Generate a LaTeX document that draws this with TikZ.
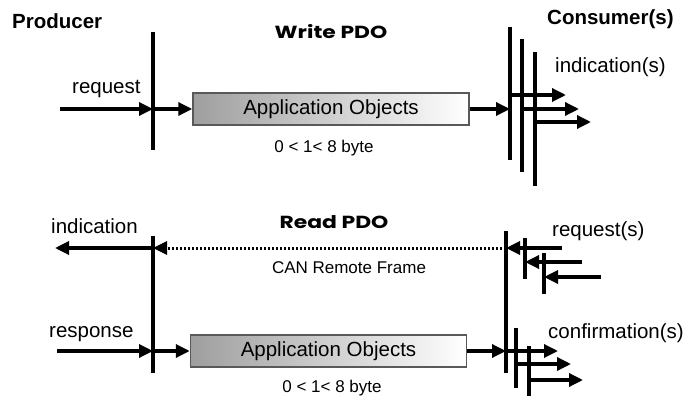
\documentclass[tikz,border=0pt]{standalone}
\usepackage{fontspec}
\setmainfont{Liberation Sans}
\newfontfamily\pdofont[FakeStretch=1.25]{Poppins}
\usetikzlibrary{arrows.meta}

\begin{document}
\begin{tikzpicture}[x=1pt,y=-1pt,
   bar/.style={line width=3.3pt},
   flow/.style={line width=3.3pt,-{Triangle[length=14pt,width=13pt]}},
   lbl/.style={anchor=base west,inner sep=0pt,font=\fontsize{20.5}{24}\selectfont},
   head/.style={lbl,font=\bfseries\fontsize{20.5}{24}\selectfont},
   small/.style={anchor=base,inner sep=0pt,font=\fontsize{17}{20}\selectfont},
   pdo/.style={anchor=base,inner sep=0pt,font=\pdofont\bfseries\fontsize{17.5}{20}\selectfont},
   objbox/.style={draw=black!65,line width=1.5pt,left color=black!38,right color=white,
      minimum width=276pt,minimum height=32pt,inner sep=0pt,font=\fontsize{20.5}{24}\selectfont}]
\useasboundingbox (0,0) rectangle (690,396);
\node[head] (prod) at (12,29) {Producer};
\node[head] (cons) at (547,25) {Consumer(s)};

% write PDO
\node[pdo] (wpdo) at (331,38) {Write PDO};
\node[lbl] (wreq) at (72,93) {request};
\node[lbl] (wind) at (555,73) {indication(s)};
\node[objbox] (wobj) at (331,109) {Application Objects};
\node[small] (wsize) at (324,152) {0 < 1< 8 byte};
\coordinate (wp-t) at (153,32); \coordinate (wp-b) at (153,150);
\coordinate (wc1-t) at (510,27); \coordinate (wc1-b) at (510,160);
\coordinate (wc2-t) at (522,39); \coordinate (wc2-b) at (522,172);
\coordinate (wc3-t) at (535,52); \coordinate (wc3-b) at (535,186);
\coordinate (wreq-in) at (60,109);
\draw[bar] (wp-t) -- (wp-b);
\draw[flow] (wreq-in) -- (wreq-in -| wp-t);
\draw[flow] (wreq-in -| wp-t) -- (wobj.west);
\draw[flow] (wobj.east) -- (wobj.east -| wc1-t);
\foreach \i/\y/\x in {1/95/566,2/109/579,3/122/591} {
  \draw[bar] (wc\i-t) -- (wc\i-b);
  \coordinate (wind\i) at (\x,\y);
  \draw[flow] (wind\i -| wc\i-t) -- (wind\i);
}

% read PDO
\node[pdo] (rpdo) at (334,228) {Read PDO};
\node[lbl] (rind) at (51,233) {indication};
\node[lbl] (rreq) at (552,236) {request(s)};
\node[small] (can) at (349,273) {CAN Remote Frame};
\node[lbl] (rresp) at (49,337) {response};
\node[lbl] (rconf) at (548,338) {confirmation(s)};
\node[objbox] (robj) at (328.5,351) {Application Objects};
\node[small] (rsize) at (332,392) {0 < 1< 8 byte};
\coordinate (rp-t) at (153,236); \coordinate (rp-b) at (153,373);
\coordinate (rc-t) at (506,231); \coordinate (rc-b) at (506,373);
\coordinate (rq2-t) at (525,238); \coordinate (rq2-b) at (525,279);
\coordinate (rq3-t) at (544,253); \coordinate (rq3-b) at (544,294);
\coordinate (cf2-t) at (516,328); \coordinate (cf2-b) at (516,388);
\coordinate (cf3-t) at (529,346); \coordinate (cf3-b) at (529,396);
\coordinate (rind-out) at (55,248);
\coordinate (rresp-in) at (57,351);
\foreach \l in {rp,rc,rq2,rq3,cf2,cf3} \draw[bar] (\l-t) -- (\l-b);
\draw[flow,line width=3pt,dash pattern=on 2pt off 2pt] (rind-out -| rc-t) -- (rind-out -| rp-t);
\draw[flow] (rind-out -| rp-t) -- (rind-out);
\foreach \l/\y/\x [count=\i] in {rc/248/562,rq2/262/582,rq3/277/601} {
  \coordinate (rreq\i) at (\x,\y);
  \draw[flow] (rreq\i) -- (rreq\i -| \l-t);
}
\draw[flow] (rresp-in) -- (rresp-in -| rp-t);
\draw[flow] (rresp-in -| rp-t) -- (robj.west);
\draw[flow] (robj.east) -- (robj.east -| rc-t);
\foreach \l/\y/\x [count=\i] in {rc/351/558,cf2/364/571,cf3/380/583} {
  \coordinate (rconf\i) at (\x,\y);
  \draw[flow] (rconf\i -| \l-t) -- (rconf\i);
}
\end{tikzpicture}
\end{document}
